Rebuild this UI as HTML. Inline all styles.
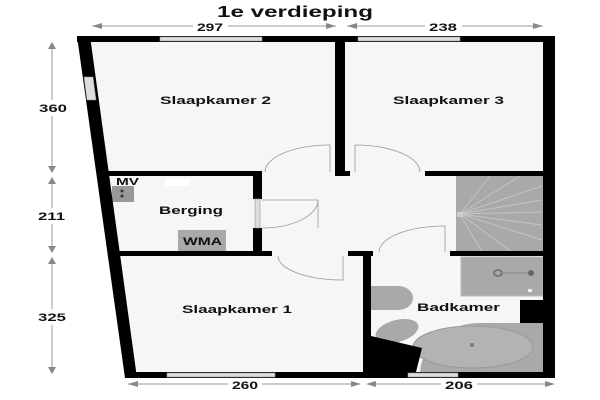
<!DOCTYPE html>
<html><head><meta charset="utf-8"><style>
html,body{margin:0;padding:0;background:#fff;}
svg{display:block;}
text{font-family:"Liberation Sans",Arial,sans-serif;font-weight:bold;fill:#111;}
</style></head><body>
<svg width="600" height="400" viewBox="0 0 600 400" xmlns="http://www.w3.org/2000/svg">
<rect width="600" height="400" fill="#fff"/>
<text x="217" y="17" font-size="16" textLength="156" lengthAdjust="spacingAndGlyphs">1e verdieping</text>
<!-- floor -->
<polygon points="77,36 555,36 555,378 125,378" fill="#f6f6f4"/>
<!-- stairs -->
<rect x="456" y="175" width="87" height="77" fill="#a9a9a9"/>
<g stroke="#c4c4c4" stroke-width="1">
<line x1="460" y1="214" x2="490" y2="176"/><line x1="460" y1="214" x2="520" y2="176"/>
<line x1="460" y1="214" x2="542" y2="186"/><line x1="460" y1="214" x2="542" y2="200"/>
<line x1="460" y1="214" x2="542" y2="212"/><line x1="460" y1="214" x2="542" y2="225"/>
<line x1="460" y1="214" x2="542" y2="240"/><line x1="460" y1="214" x2="512" y2="252"/>
<line x1="460" y1="214" x2="482" y2="252"/></g>
<rect x="457" y="212" width="6" height="5" fill="#ccc"/>
<!-- bathroom fixtures -->
<rect x="461" y="257" width="82" height="39" fill="#a9a9a9" stroke="#bbb"/>
<ellipse cx="498" cy="273" rx="4" ry="3" fill="none" stroke="#777" stroke-width="2"/>
<line x1="500" y1="273" x2="530" y2="273" stroke="#888"/>
<circle cx="531" cy="273" r="3" fill="#666"/>
<rect x="528" y="289" width="4" height="3" fill="#eee"/>
<rect x="520" y="300" width="25" height="23" fill="#000"/>
<path d="M371,286 L398,286 A15,12 0 0 1 398,310 L371,310 Z" fill="#a9a9a9"/>
<ellipse cx="397" cy="331" rx="22" ry="11" transform="rotate(-15 397 331)" fill="#a9a9a9"/>
<path d="M420,372 A60,52 0 0 1 480,323 L545,323 L545,372 Z" fill="#a9a9a9"/>
<ellipse cx="473" cy="347" rx="60" ry="21" fill="#b3b3b3" stroke="#999"/>
<circle cx="472" cy="345" r="2" fill="#777"/>
<polygon points="371,336 422,348 416,372 371,372" fill="#000"/>
<!-- berging items -->
<rect x="112" y="186" width="22" height="16" fill="#999"/>
<circle cx="122" cy="191" r="1.5" fill="#333"/><circle cx="122" cy="196" r="1.5" fill="#333"/>
<rect x="178" y="230" width="48" height="21" fill="#a9a9a9"/>
<text x="183" y="245" font-size="11" textLength="39" lengthAdjust="spacingAndGlyphs">WMA</text>
<text x="116" y="185" font-size="10" textLength="23" lengthAdjust="spacingAndGlyphs">MV</text>
<rect x="165" y="179" width="25" height="7" fill="#fff"/>
<!-- walls -->
<g fill="#000">
<rect x="77" y="36" width="478" height="6"/>
<polygon points="77,36 90,36 137,378 125,378"/>
<rect x="543" y="36" width="12" height="342"/>
<rect x="125" y="372" width="430" height="6"/>
<rect x="335" y="36" width="10" height="140"/>
<polygon points="108,171 262,171 262,176 108,176"/>
<rect x="336" y="171" width="14" height="5"/>
<rect x="425" y="171" width="130" height="5"/>
<rect x="253" y="171" width="9" height="28"/>
<rect x="253" y="228" width="9" height="27"/>
<polygon points="116,251 272,251 272,256 116,256"/>
<rect x="348" y="251" width="25" height="5"/>
<rect x="450" y="251" width="105" height="5"/>
<rect x="363" y="251" width="8" height="127"/>
</g>
<!-- windows -->
<g fill="#ddd" stroke="#999" stroke-width="0.6">
<rect x="160" y="37" width="102" height="4"/>
<rect x="358" y="37" width="102" height="4"/>
<rect x="167" y="373" width="108" height="4"/>
<rect x="408" y="373" width="50" height="4"/>
<polygon points="84,77 93,77 96,100 87,100"/>
<rect x="255" y="199" width="5" height="29"/>
</g>
<!-- doors -->
<g fill="none" stroke="#999" stroke-width="0.8">
<path d="M330,172 L330,145 A65,27 0 0 0 265,172"/>
<path d="M355,172 L355,145 A65,27 0 0 1 420,172"/>
<path d="M262,200 L318,200 L318,228 M262,228 A56,28 0 0 0 318,200"/>
<path d="M445,252 L445,226 A66,26 0 0 0 379,252"/>
<path d="M343,256 L343,280 A65,24 0 0 1 278,256"/>
</g>
<!-- labels -->
<text x="160" y="104" font-size="11" textLength="111" lengthAdjust="spacingAndGlyphs">Slaapkamer 2</text>
<text x="393" y="104" font-size="11" textLength="111" lengthAdjust="spacingAndGlyphs">Slaapkamer 3</text>
<text x="159" y="214" font-size="11" textLength="64" lengthAdjust="spacingAndGlyphs">Berging</text>
<text x="182" y="313" font-size="11" textLength="110" lengthAdjust="spacingAndGlyphs">Slaapkamer 1</text>
<text x="417" y="311" font-size="11" textLength="83" lengthAdjust="spacingAndGlyphs">Badkamer</text>
<!-- dimensions -->
<g stroke="#999" stroke-width="1">
<line x1="92" y1="26" x2="193" y2="26"/><line x1="228" y1="26" x2="336" y2="26"/>
<line x1="347" y1="26" x2="425" y2="26"/><line x1="462" y1="26" x2="543" y2="26"/>
<line x1="52" y1="45" x2="52" y2="100"/><line x1="52" y1="116" x2="52" y2="170"/>
<line x1="52" y1="178" x2="52" y2="208"/><line x1="52" y1="224" x2="52" y2="250"/>
<line x1="52" y1="260" x2="52" y2="309"/><line x1="52" y1="325" x2="52" y2="372"/>
<line x1="128" y1="384" x2="228" y2="384"/><line x1="262" y1="384" x2="360" y2="384"/>
<line x1="368" y1="384" x2="441" y2="384"/><line x1="477" y1="384" x2="553" y2="384"/>
</g>
<g fill="#888">
<polygon points="92,26 102,23 102,29"/><polygon points="336,26 326,23 326,29"/>
<polygon points="347,26 357,23 357,29"/><polygon points="543,26 533,23 533,29"/>
<polygon points="52,42 48,49 56,49"/><polygon points="52,173 48,166 56,166"/>
<polygon points="52,177 48,184 56,184"/><polygon points="52,253 48,246 56,246"/>
<polygon points="52,257 48,264 56,264"/><polygon points="52,374 48,367 56,367"/>
<polygon points="128,384 138,381 138,387"/><polygon points="361,384 351,381 351,387"/>
<polygon points="366,384 376,381 376,387"/><polygon points="555,384 545,381 545,387"/>
</g>
<text x="197" y="31" font-size="11" textLength="26" lengthAdjust="spacingAndGlyphs">297</text>
<text x="429" y="31" font-size="11" textLength="28" lengthAdjust="spacingAndGlyphs">238</text>
<text x="39" y="112" font-size="11" textLength="28" lengthAdjust="spacingAndGlyphs">360</text>
<text x="38" y="220" font-size="11" textLength="27" lengthAdjust="spacingAndGlyphs">211</text>
<text x="38" y="321" font-size="11" textLength="28" lengthAdjust="spacingAndGlyphs">325</text>
<text x="232" y="389" font-size="11" textLength="26" lengthAdjust="spacingAndGlyphs">260</text>
<text x="445" y="389" font-size="11" textLength="28" lengthAdjust="spacingAndGlyphs">206</text>
</svg>
</body></html>
